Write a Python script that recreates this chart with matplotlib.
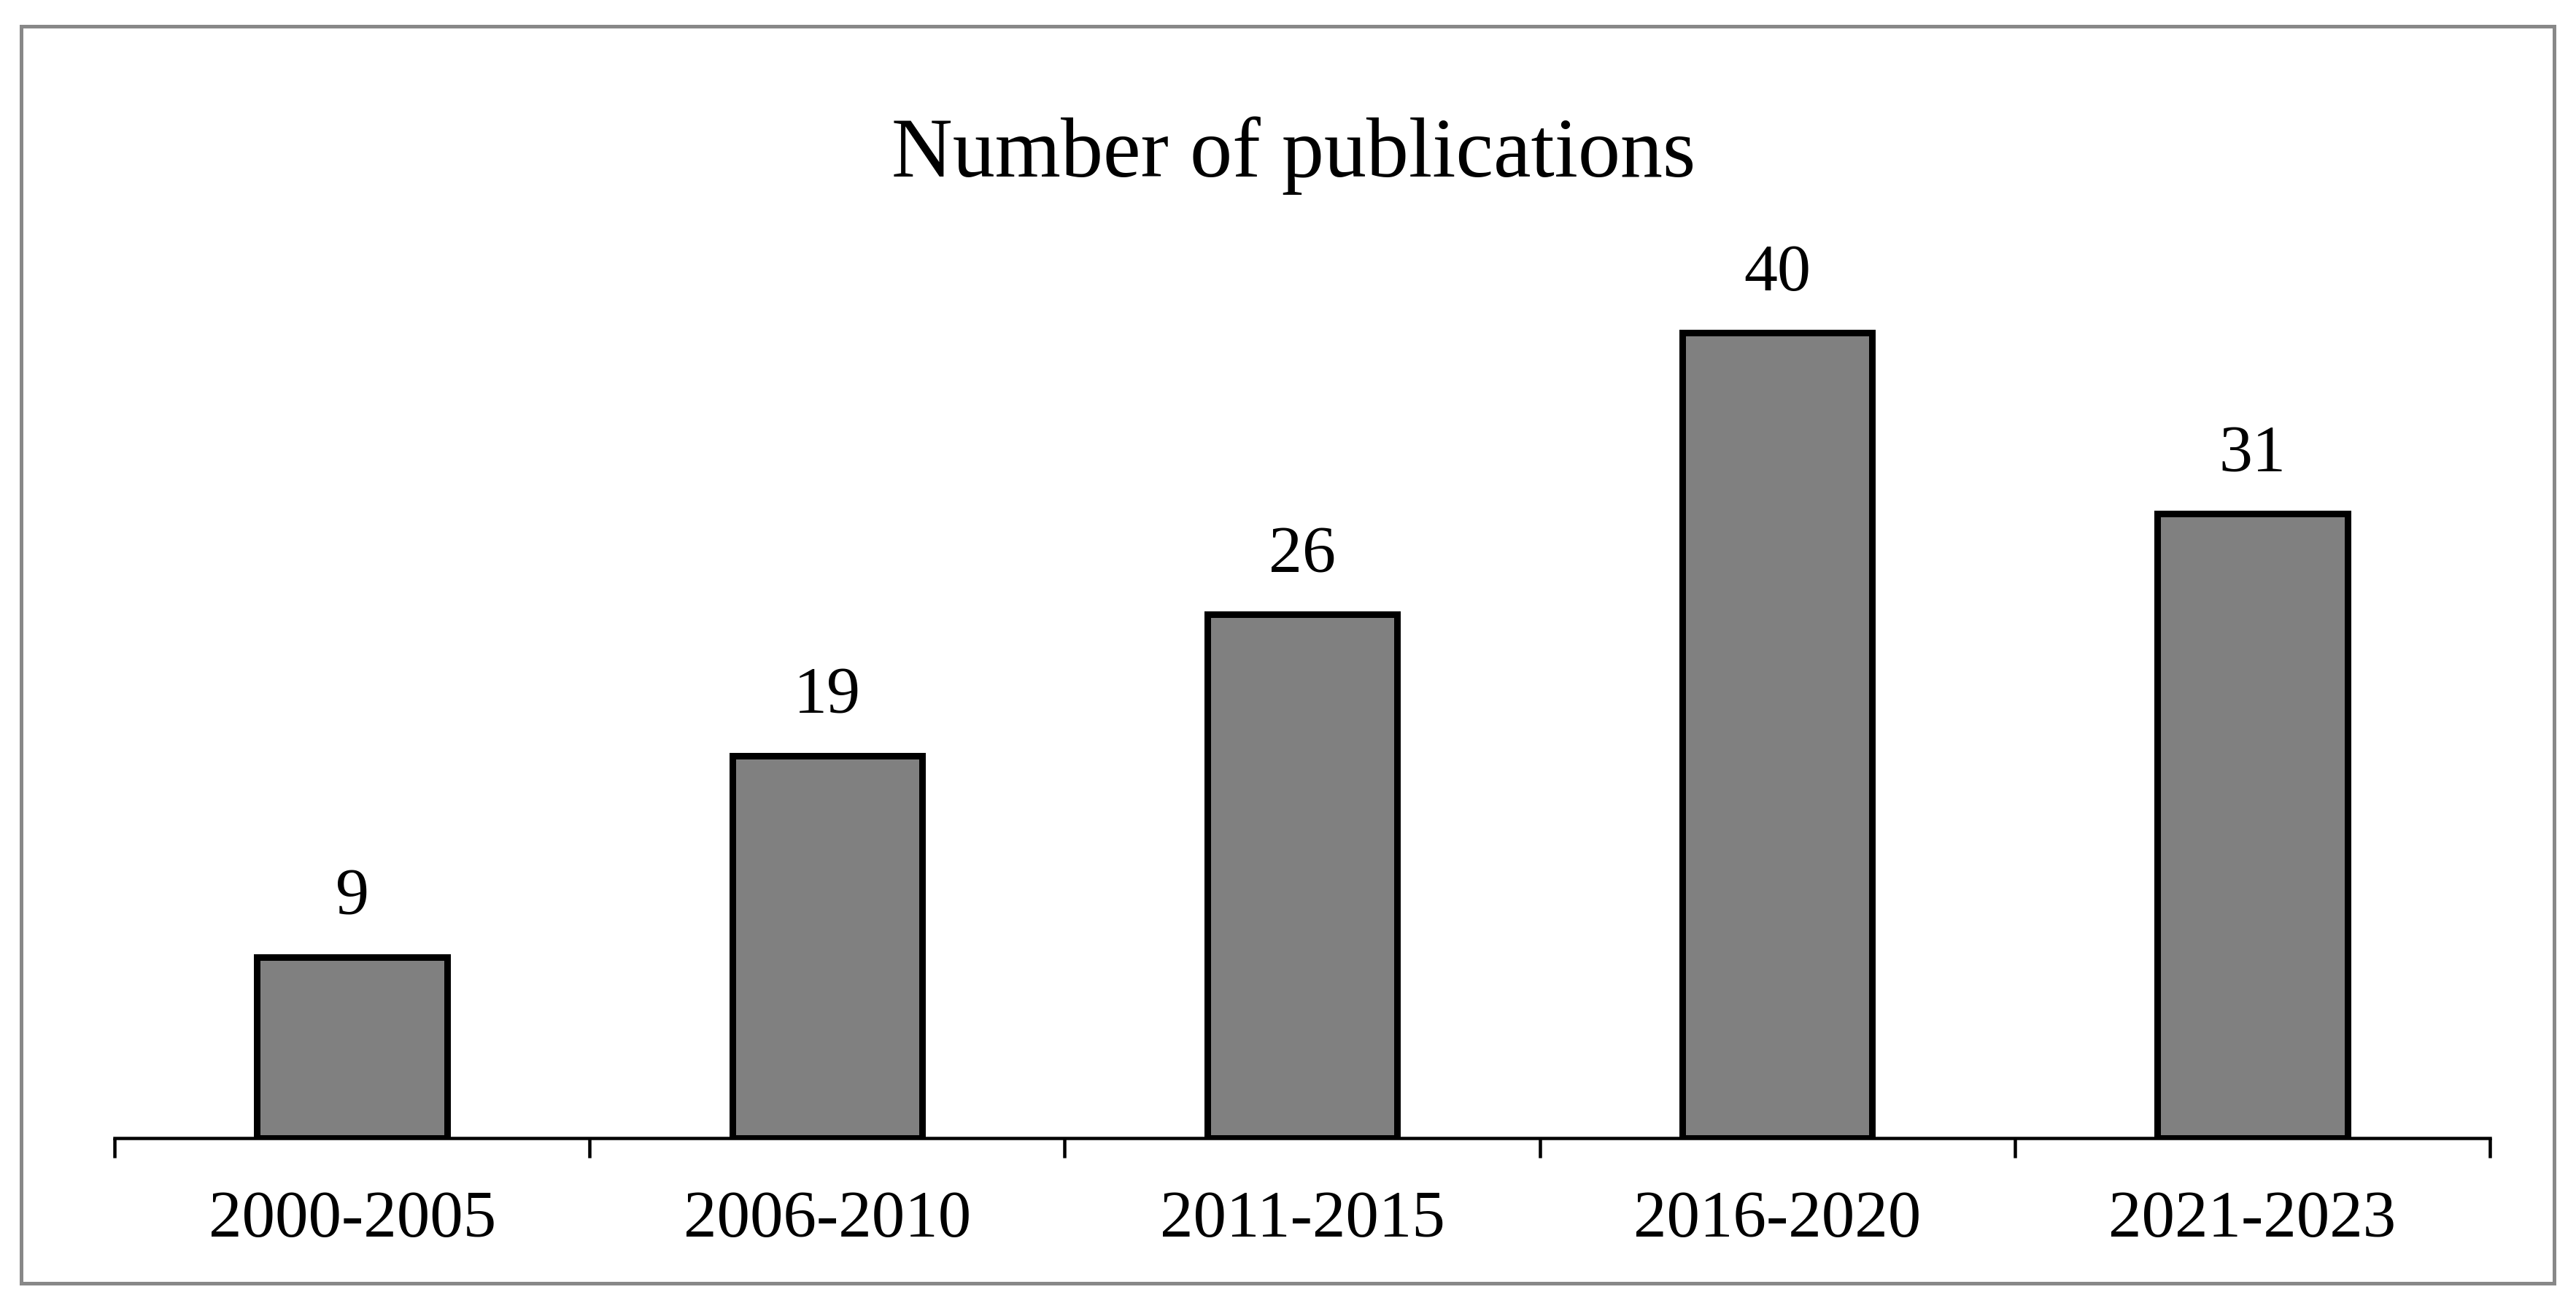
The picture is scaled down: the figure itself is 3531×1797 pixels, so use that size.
import matplotlib
matplotlib.use("Agg")
import matplotlib.pyplot as plt
from matplotlib.patches import Rectangle

categories = ["2000-2005", "2006-2010", "2011-2015", "2016-2020", "2021-2023"]
values = [9, 19, 26, 40, 31]
title = "Number of publications"

W, H = 3531, 1797
DPI = 100
PX = 72.0 / DPI  # points per pixel

plt.rcParams['font.family'] = ['Liberation Serif', 'DejaVu Serif']

fig = plt.figure(figsize=(W / DPI, H / DPI), dpi=DPI)
fig.patch.set_facecolor('white')

# axes geometry (pixels)
x_left, x_right = 157, 3413
base_y = 1560          # baseline, from top
px_per_unit = 27.6
ymax = 45
ax = fig.add_axes([x_left / W, (H - base_y) / H, (x_right - x_left) / W, ymax * px_per_unit / H])

xs = list(range(len(categories)))
ax.bar(xs, values, width=0.4, color='#808080', edgecolor='black',
       linewidth=9 * PX, joinstyle='miter', zorder=3)

ax.set_xlim(-0.5, len(categories) - 0.5)
ax.set_ylim(0, ymax)

for s in ['top', 'right', 'left']:
    ax.spines[s].set_visible(False)
ax.spines['bottom'].set_linewidth(4.5 * PX)
ax.spines['bottom'].set_zorder(2)
ax.set_yticks([])

# boundary ticks (major), labels at centres (minor)
ax.set_xticks([i - 0.5 for i in range(len(categories) + 1)])
ax.set_xticklabels([])
ax.tick_params(axis='x', which='major', direction='out', length=27 * PX, width=4.5 * PX, color='black')
ax.set_xticks(xs, minor=True)
ax.set_xticklabels(categories, minor=True)
ax.tick_params(axis='x', which='minor', length=0, pad=71 * PX, labelsize=91 * PX, labelcolor='black')

for x, v in zip(xs, values):
    ax.annotate(str(v), xy=(x, v), xytext=(0, 58 * PX), textcoords='offset points',
                ha='center', va='baseline', fontsize=92 * PX, color='black')

fig.text(1773 / W, (H - 242) / H, title, ha='center', va='baseline', fontsize=116 * PX, color='black')

# outer border
bw = 5
fig.patches.append(Rectangle(((26 + bw / 2) / W, (H - 1761 + bw / 2) / H),
                             (3503 - 26 - bw) / W, (1761 - 33 - bw) / H,
                             transform=fig.transFigure, fill=False,
                             edgecolor='#888888', linewidth=bw * PX, zorder=10))

fig.savefig('out.png', dpi=DPI, facecolor='white')
